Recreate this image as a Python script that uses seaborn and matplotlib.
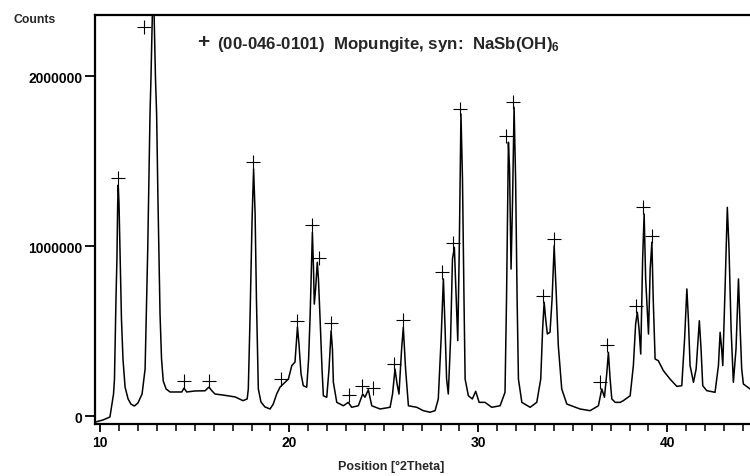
import matplotlib
matplotlib.use("Agg")
import matplotlib.pyplot as plt
import seaborn as sns
import pandas as pd
from matplotlib.ticker import MultipleLocator, FixedLocator

two_theta = [9.75, 10.14, 10.51, 10.62, 10.70, 10.75, 10.83, 10.88, 10.92, 10.95,
             10.99, 11.04, 11.12, 11.20, 11.31, 11.47, 11.62, 11.80, 11.99, 12.21, 12.37,
             12.51, 12.63, 12.68, 12.80, 12.92, 12.98, 13.05, 13.16, 13.24, 13.33,
             13.48, 13.69, 14.01, 14.31, 14.43, 14.57, 15.01, 15.54, 15.75, 15.91,
             16.07, 16.49, 17.13, 17.55, 17.77, 17.83, 17.92, 18.03, 18.11, 18.19,
             18.26, 18.36, 18.50, 18.71, 18.98, 19.15, 19.33, 19.51, 19.68, 19.95,
             20.13, 20.30, 20.43, 20.51, 20.62, 20.74, 20.92, 21.02, 21.10, 21.22,
             21.28, 21.32, 21.39, 21.48, 21.54, 21.62, 21.73, 21.80, 21.98, 22.10,
             22.21, 22.28, 22.33, 22.51, 22.86, 23.12, 23.30, 23.65, 23.88, 24.00,
             24.18, 24.36, 24.80, 25.33, 25.46, 25.59, 25.70, 25.80, 25.94, 26.03,
             26.15, 26.30, 26.74, 27.09, 27.44, 27.71, 27.88, 28.03, 28.15, 28.24,
             28.32, 28.41, 28.53, 28.63, 28.73, 28.79, 28.91, 28.99, 29.08, 29.16,
             29.24, 29.30, 29.47, 29.68, 29.86, 30.04, 30.35, 30.71, 31.15, 31.41,
             31.49, 31.59, 31.65, 31.73, 31.81, 31.89, 31.97, 32.05, 32.12, 32.30,
             32.74, 33.09, 33.30, 33.40, 33.48, 33.56, 33.65, 33.79, 33.90, 34.01,
             34.11, 34.23, 34.41, 34.68, 35.38, 35.91, 36.35, 36.53, 36.67, 36.79,
             36.88, 36.97, 37.06, 37.24, 37.50, 37.67, 38.03, 38.20, 38.32, 38.41,
             38.50, 38.59, 38.69, 38.77, 38.85, 39.00, 39.09, 39.18, 39.25, 39.35,
             39.52, 39.79, 40.14, 40.50, 40.76, 40.91, 41.03, 41.11, 41.20, 41.38,
             41.52, 41.69, 41.78, 41.87, 42.08, 42.52, 42.70, 42.79, 42.87, 42.93,
             43.05, 43.17, 43.26, 43.37, 43.49, 43.63, 43.76, 43.85, 43.93, 44.02,
             44.37]
counts = [-33500, -21800, -4100, 72000, 131000, 219000, 690000, 925000, 1250000, 1360000,
          1250000, 984000, 572000, 337000, 172000, 102000, 72000, 60600, 78000, 131000, 278000,
          984000, 1778000, 1985000, 2600000, 1985000, 1778000, 1278000, 601000, 337000, 208000,
          161000, 143000, 143000, 143000, 166000, 143000, 149000, 150000, 172000, 149000,
          131000, 125000, 114000, 92000, 102000, 161000, 572000, 1160000, 1455000, 1190000,
          690000, 161000, 84000, 55000, 43000, 72000, 131000, 172000, 190000, 219000,
          298000, 319000, 525000, 425000, 249000, 180000, 171000, 337000, 592000, 1082000,
          866000, 660000, 749000, 906000, 808000, 592000, 278000, 121000, 112000, 278000,
          503000, 396000, 200000, 82000, 62000, 82000, 53000, 62000, 131000, 112000,
          156000, 62000, 43000, 53000, 131000, 278000, 190000, 131000, 396000, 523000,
          278000, 62000, 53000, 33000, 24000, 33000, 102000, 455000, 808000, 514000,
          219000, 131000, 455000, 925000, 994000, 808000, 445000, 984000, 1778000, 1396000,
          690000, 219000, 121000, 102000, 147000, 82000, 82000, 53000, 62000, 141000,
          690000, 1612000, 1455000, 866000, 1278000, 1818000, 1396000, 690000, 219000, 82000,
          53000, 82000, 219000, 514000, 671000, 572000, 484000, 494000, 690000, 1003000,
          749000, 415000, 161000, 72000, 43000, 33000, 62000, 161000, 112000, 249000,
          376000, 219000, 102000, 82000, 82000, 92000, 121000, 298000, 543000, 612000,
          514000, 366000, 925000, 1190000, 808000, 484000, 866000, 1024000, 690000, 337000,
          327000, 268000, 219000, 176000, 180000, 455000, 749000, 572000, 298000, 200000,
          278000, 562000, 396000, 180000, 151000, 141000, 298000, 494000, 396000, 298000,
          749000, 1229000, 984000, 514000, 200000, 396000, 808000, 514000, 278000, 190000,
          161000]

# ---- reference pattern markers (00-046-0101) ----
ref_pos = [10.94, 12.32, 14.44, 15.75, 18.06, 19.56, 20.42, 21.22, 21.57, 22.21,
           23.16, 23.86, 24.44, 25.54, 26.00, 28.08, 28.65, 29.05, 31.45, 31.85,
           33.41, 34.02, 36.44, 36.83, 38.35, 38.70, 39.18]
ref_cnt = [1403000, 2288000, 206000, 206000, 1498000, 219000, 562000, 1125000, 929000, 549000,
           125000, 180000, 165000, 308000, 568000, 847000, 1018000, 1808000, 1651000, 1851000,
           709000, 1043000, 200000, 419000, 647000, 1229000, 1059000]

y_ticks = [0, 1000000, 2000000]
y_tick_labels = ["0", "1000000", "2000000"]
x_ticks = [10, 20, 30, 40]
legend_label = "(00-046-0101)  Mopungite, syn:  NaSb(OH)$\\mathregular{_6}$"

sns.set_theme(style="white")
plt.rcParams["font.family"] = ["Liberation Sans", "DejaVu Sans"]
plt.rcParams["mathtext.fontset"] = "custom"
plt.rcParams["mathtext.rm"] = "Liberation Sans:bold"

fig = plt.figure(figsize=(7.5, 4.77), dpi=100)
ax = fig.add_axes([95 / 750, 1 - 425 / 477, 1 - 95 / 750, (425 - 15.7) / 477])

df = pd.DataFrame({"x": two_theta, "y": counts})
sns.lineplot(data=df, x="x", y="y", sort=False, estimator=None, color="black",
             linewidth=1.1, ax=ax)
rf = pd.DataFrame({"x": ref_pos, "y": ref_cnt})
sns.scatterplot(data=rf, x="x", y="y", marker="+", s=90, color="black",
                linewidth=0.8, ax=ax, zorder=3)

ax.set_xlim(9.72, 44.37)
ax.set_ylim(-45300, 2362000)
ax.set_xlabel("")
ax.set_ylabel("")

for side in ["top", "left", "bottom"]:
    ax.spines[side].set_visible(True)
    ax.spines[side].set_color("black")
    ax.spines[side].set_linewidth(1.6)
ax.spines["right"].set_visible(False)

ax.xaxis.set_major_locator(FixedLocator(x_ticks))
ax.xaxis.set_minor_locator(MultipleLocator(1))
ax.yaxis.set_major_locator(FixedLocator(y_ticks))
ax.set_yticklabels(y_tick_labels)
ax.tick_params(axis="x", which="major", direction="out", length=6, width=1.3,
               labelsize=10, pad=2, colors="black", bottom=True)
ax.tick_params(axis="x", which="minor", direction="out", length=5, width=1.3,
               bottom=True)
ax.tick_params(axis="y", which="major", direction="out", length=7, width=1.3,
               labelsize=10, pad=2, colors="black", left=True)
for lab in ax.get_xticklabels() + ax.get_yticklabels():
    lab.set_fontweight("bold")

fig.text(13 / 750, 1 - 20 / 477, "Counts", fontsize=8.8, fontweight="bold",
         ha="left", va="center")
fig.text(338 / 750, 1 - 467 / 477, "Position [°2Theta]", fontsize=9,
         fontweight="bold", ha="left", va="center")
fig.text(203 / 750, 1 - 43 / 477, "+", fontsize=15, fontweight="bold",
         ha="center", va="center")
fig.text(217 / 750, 1 - 44 / 477, legend_label, fontsize=12.2, fontweight="bold",
         ha="left", va="center")

fig.savefig("out.png", dpi=100)
